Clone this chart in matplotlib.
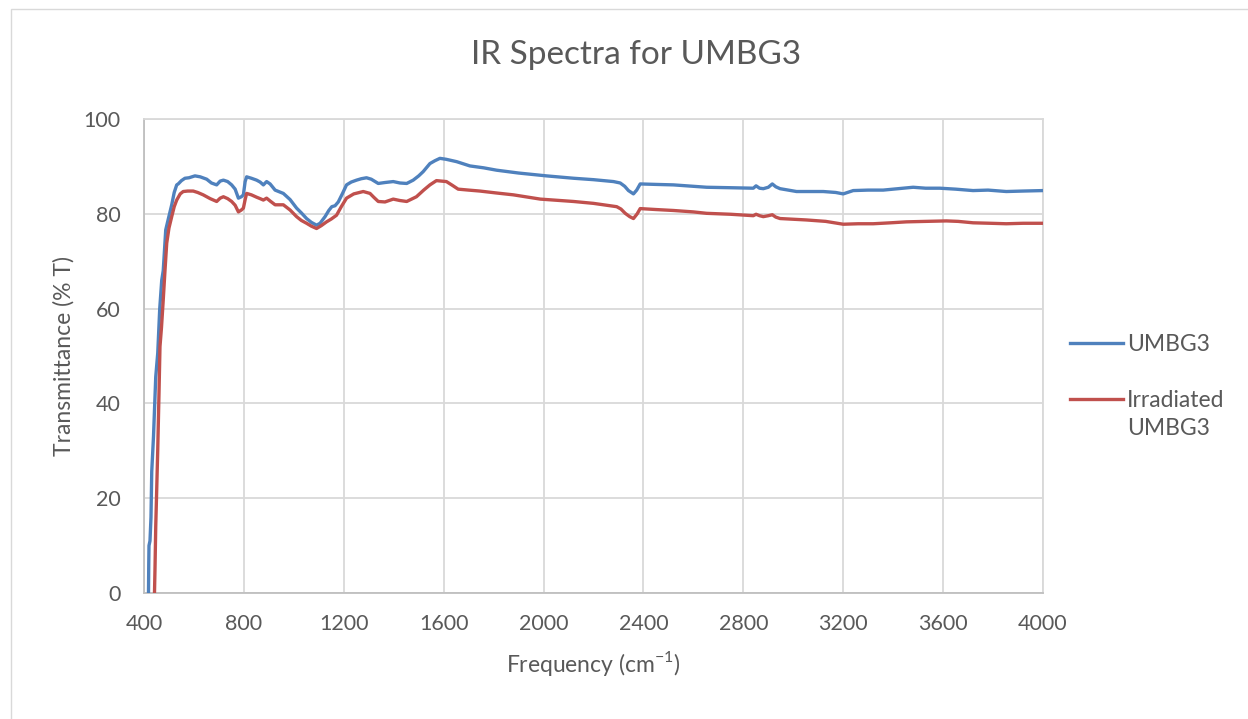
import matplotlib
matplotlib.use("Agg")
import matplotlib.pyplot as plt
from matplotlib.patches import Rectangle

# ---- data ----
umbg3_freq = [418, 419, 420, 424, 428, 431, 438, 447, 455, 463, 471, 477, 487, 491, 500, 511,
              521, 531, 537, 550, 564, 580, 604, 625, 651, 670, 691, 705, 718, 735, 751, 765,
              778, 790, 798, 805, 811, 830, 851, 865, 878, 891, 905, 925, 958, 985, 1011,
              1030, 1051, 1070, 1091, 1105, 1125, 1140, 1152, 1165, 1178, 1195, 1211, 1230,
              1251, 1270, 1291, 1310, 1338, 1365, 1398, 1425, 1452, 1478, 1500, 1518, 1545,
              1565, 1585, 1610, 1652, 1705, 1760, 1812, 1900, 2012, 2120, 2200, 2280, 2307,
              2325, 2340, 2360, 2373, 2387, 2450, 2520, 2600, 2653, 2750, 2840, 2851, 2865,
              2880, 2900, 2916, 2930, 2947, 3013, 3060, 3120, 3170, 3200, 3240, 3300, 3360,
              3420, 3480, 3530, 3587, 3650, 3720, 3780, 3853, 3920, 4000]
umbg3_T = [0, 6, 10, 11, 16, 25.6, 33, 45.6, 50.6, 60, 66, 68, 76.6, 77.5, 79.5, 81.9,
           84.5, 86.1, 86.3, 87.0, 87.5, 87.6, 88.0, 87.8, 87.3, 86.5, 86.1, 86.9, 87.1, 86.8,
           86.1, 85.2, 83.3, 83.6, 84.0, 86.8, 87.8, 87.5, 87.1, 86.7, 86.1, 86.8, 86.3,
           85.0, 84.3, 83.0, 81.2, 80.2, 79.0, 78.2, 77.6, 78.0, 79.4, 80.7, 81.5, 81.7,
           82.5, 84.3, 86.1, 86.7, 87.1, 87.4, 87.6, 87.3, 86.4, 86.6, 86.8, 86.5, 86.4,
           87.1, 88.0, 88.9, 90.6, 91.2, 91.7, 91.5, 91.0, 90.1, 89.7, 89.2, 88.6, 88.0,
           87.5, 87.2, 86.8, 86.5, 85.8, 84.9, 84.2, 85.0, 86.3, 86.2, 86.1, 85.8, 85.6,
           85.5, 85.4, 85.9, 85.4, 85.3, 85.6, 86.3, 85.7, 85.3, 84.7, 84.7, 84.7, 84.5,
           84.2, 84.9, 85.0, 85.0, 85.3, 85.6, 85.4, 85.4, 85.2, 84.9, 85.0, 84.7, 84.8, 84.9]

irr_freq = [442, 444, 447, 451, 455, 460, 464, 470, 477, 484, 491, 500, 511, 521, 531, 545,
            557, 575, 597, 615, 637, 665, 691, 705, 718, 735, 751, 765, 778, 790, 798, 805,
            811, 830, 851, 865, 878, 891, 905, 925, 958, 985, 1011, 1030, 1051, 1070, 1091,
            1110, 1131, 1150, 1171, 1190, 1211, 1240, 1278, 1305, 1320, 1338, 1365, 1398,
            1425, 1452, 1491, 1520, 1545, 1571, 1611, 1635, 1658, 1700, 1745, 1810, 1879,
            1987, 2120, 2200, 2293, 2310, 2327, 2345, 2360, 2375, 2387, 2450, 2520, 2600,
            2653, 2750, 2840, 2851, 2865, 2880, 2900, 2916, 2930, 2947, 3053, 3130, 3200,
            3260, 3320, 3390, 3453, 3530, 3613, 3660, 3720, 3790, 3853, 3920, 4000]
irr_T = [0, 5, 14, 22, 30.2, 42, 52, 56, 61.8, 68, 73.8, 77, 79.4, 81.5, 82.9, 84.2,
         84.7, 84.8, 84.8, 84.5, 84.0, 83.2, 82.6, 83.3, 83.6, 83.2, 82.6, 81.8, 80.4, 80.8,
         81.2, 83.0, 84.3, 84.0, 83.5, 83.2, 82.9, 83.3, 82.7, 81.9, 81.9, 80.8, 79.4, 78.6,
         78.0, 77.4, 76.9, 77.5, 78.3, 78.9, 79.7, 81.5, 83.3, 84.2, 84.7, 84.3, 83.5, 82.6,
         82.5, 83.1, 82.8, 82.6, 83.6, 85.0, 86.1, 87.0, 86.8, 86.0, 85.2, 85.0, 84.8, 84.4,
         84.0, 83.1, 82.6, 82.2, 81.5, 81.0, 80.1, 79.4, 79.0, 80.0, 81.1, 80.9, 80.7, 80.4,
         80.1, 79.9, 79.6, 79.9, 79.6, 79.4, 79.6, 79.8, 79.3, 79.0, 78.7, 78.4, 77.8,
         77.9, 77.9, 78.1, 78.3, 78.4, 78.5, 78.4, 78.1, 78.0, 77.9, 78.0, 78.0]

series_labels = ["UMBG3", "Irradiated", "UMBG3"]  # second legend entry wraps onto two lines
x_ticks = [400, 800, 1200, 1600, 2000, 2400, 2800, 3200, 3600, 4000]
y_ticks = [0, 20, 40, 60, 80, 100]

# ---- styling ----
FONT = ["Lato", "DejaVu Sans"]
plt.rcParams["font.family"] = FONT
plt.rcParams["mathtext.fontset"] = "custom"
plt.rcParams["mathtext.rm"] = "Lato"
TXT = "#595959"
GRID = "#d9d9d9"
BLUE = "#4f81bd"
RED = "#c0504d"

W, H = 1248, 719
fig = plt.figure(figsize=(W / 100, H / 100), dpi=100)
fig.patch.set_facecolor("white")

# chart border
fig.add_artist(Rectangle((11 / W, -0.05), 1.1, (H - 9) / H + 0.05, transform=fig.transFigure,
                         fill=False, edgecolor="#d9d9d9", linewidth=1.0))

left, right, top, bottom = 144, 1043, 119, 593
ax = fig.add_axes([left / W, (H - bottom) / H, (right - left) / W, (bottom - top) / H])

l1, = ax.plot(umbg3_freq, umbg3_T, color=BLUE, lw=2.4, solid_joinstyle="round", zorder=3)
l2, = ax.plot(irr_freq, irr_T, color=RED, lw=2.4, solid_joinstyle="round", zorder=3)

ax.set_xlim(400, 4000)
ax.set_ylim(0, 100)
ax.set_xticks(x_ticks)
ax.set_yticks(y_ticks)
ax.grid(True, color=GRID, lw=1.3)
ax.set_axisbelow(True)
for s in ["top", "right"]:
    ax.spines[s].set_color(GRID)
    ax.spines[s].set_linewidth(1.3)
for s in ["left", "bottom"]:
    ax.spines[s].set_color("#bfbfbf")
    ax.spines[s].set_linewidth(1.3)
ax.tick_params(axis="y", length=0, labelsize=15.5, colors=TXT, pad=17)
ax.tick_params(axis="x", length=0, labelsize=15.5, colors=TXT, pad=15)

ax.set_xlabel(r"Frequency (cm$^{\mathregular{-1}}$)", fontsize=16.5, color=TXT, labelpad=11)
ax.set_ylabel("Transmittance (% T)", fontsize=16.5, color=TXT, labelpad=6)
fig.text(636 / W, (H - 55) / H, "IR Spectra for UMBG3", ha="center", va="center",
         fontsize=24, color=TXT)

leg = fig.legend([l1, l2], series_labels[:2], loc="upper left",
                 bbox_to_anchor=(1059 / W, (H - 323) / H), frameon=False,
                 fontsize=16.5, labelcolor=TXT, handlelength=2.3, handletextpad=0.18,
                 labelspacing=1.5, borderpad=0)

fig.canvas.draw()
bb = leg.get_texts()[1].get_window_extent()
fig.text(bb.x0 / W, (bb.y0 + bb.y1) / 2 / H - 28 / H, series_labels[2], ha="left",
         va="center", fontsize=16.5, color=TXT)

fig.savefig("out.png", dpi=100)
